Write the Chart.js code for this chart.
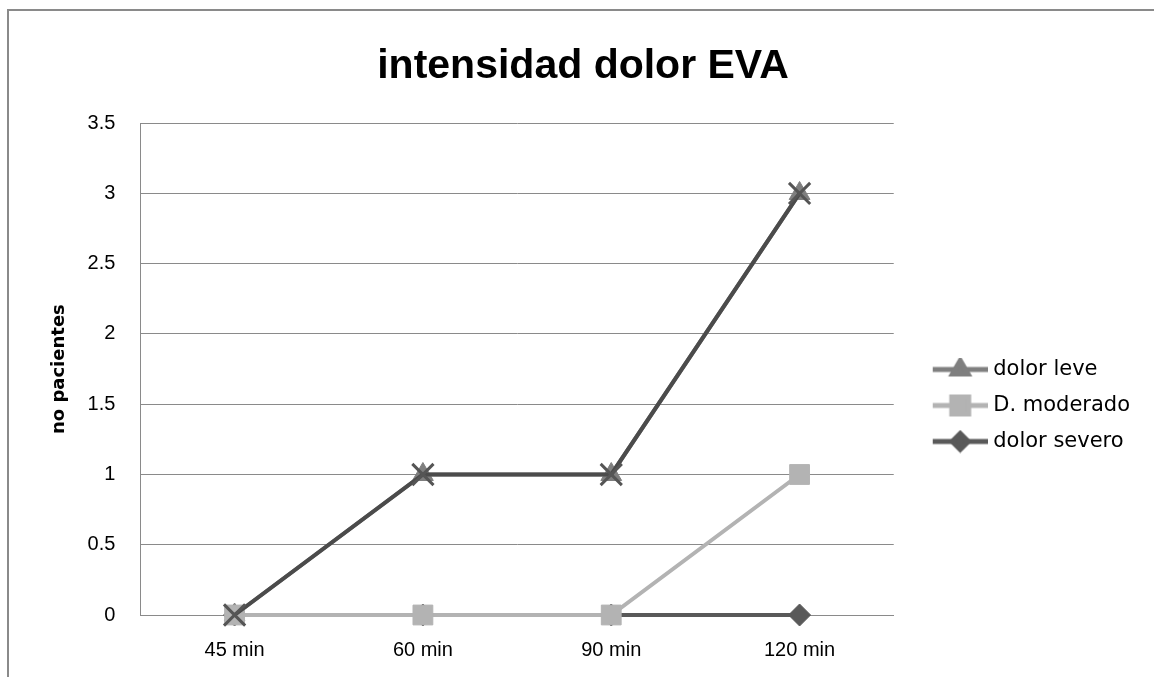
<!DOCTYPE html>
<html>
<head>
    <title>intensidad dolor EVA</title>
    <script src="https://cdn.jsdelivr.net/npm/chart.js"></script>
    <style>
        body { margin: 0; background: #fff; }
        #frame {
            position: absolute; left: 7px; top: 9px; width: 1147px; height: 668px;
            border-left: 2px solid #8a8a8a; border-top: 2px solid #8a8a8a;
        }
        #wrap { position: absolute; left: 9px; top: 11px; width: 1145px; height: 666px; }
    </style>
</head>
<body>
    <div id="frame"></div>
    <div id="wrap"><canvas id="evaChart" width="1145" height="666"></canvas></div>

    <script>
        // datos
        const categorias = ['45 min', '60 min', '90 min', '120 min'];
        const dolorLeve = [0, 1, 1, 3];
        const dolorModerado = [0, 0, 0, 1];
        const dolorSevero = [0, 0, 0, 0];
        const serie4 = [0, 1, 1, 3];   // serie sin entrada en la leyenda
        const yTicks = [0, 0.5, 1, 1.5, 2, 2.5, 3, 3.5];

        const fuente = "'Liberation Sans', Arial, sans-serif";
        const fuenteAncha = "'DejaVu Sans', sans-serif";

        // icono de leyenda: linea + marcador (la linea ocupa la parte derecha)
        const ICONO_W = 84;
        function iconoLeyenda(color, estilo, r) {
            const c = document.createElement('canvas');
            c.width = ICONO_W; c.height = 24;
            const g = c.getContext('2d');
            g.strokeStyle = color;
            g.lineWidth = 5;
            g.beginPath(); g.moveTo(ICONO_W - 55, 12); g.lineTo(ICONO_W, 12); g.stroke();
            g.fillStyle = color;
            Chart.helpers.drawPoint(g, { pointStyle: estilo, radius: r, borderWidth: 1 }, ICONO_W - 27.5, 12);
            return c;
        }

        const ctx = document.getElementById('evaChart').getContext('2d');
        const chart = new Chart(ctx, {
            type: 'line',
            data: {
                labels: categorias,
                datasets: [
                    {
                        label: 'dolor leve',
                        data: dolorLeve,
                        borderColor: '#7f7f7f',
                        backgroundColor: '#7f7f7f',
                        borderWidth: 4,
                        pointStyle: 'triangle',
                        pointRadius: 12,
                        pointBorderWidth: 1,
                        clip: false,
                        order: 2,
                        icono: iconoLeyenda('#7f7f7f', 'triangle', 9)
                    },
                    {
                        label: 'D. moderado',
                        data: dolorModerado,
                        borderColor: '#b3b3b3',
                        backgroundColor: '#b3b3b3',
                        borderWidth: 4,
                        pointStyle: 'rect',
                        pointRadius: 14,
                        pointBorderWidth: 1,
                        clip: false,
                        order: 1,
                        icono: iconoLeyenda('#b3b3b3', 'rect', 12)
                    },
                    {
                        label: 'dolor severo',
                        data: dolorSevero,
                        borderColor: '#595959',
                        backgroundColor: '#595959',
                        borderWidth: 4,
                        pointStyle: 'rectRot',
                        pointRadius: 11,
                        pointBorderWidth: 1,
                        clip: false,
                        order: 3,
                        icono: iconoLeyenda('#595959', 'rectRot', 8)
                    },
                    {
                        label: 'Serie4',
                        data: serie4,
                        borderColor: '#4b4b4b',
                        backgroundColor: '#5a5a5a',
                        pointBorderColor: '#555555',
                        borderWidth: 4,
                        pointStyle: 'crossRot',
                        pointRadius: 15,
                        pointBorderWidth: 3,
                        clip: false,
                        order: 0
                    }
                ]
            },
            options: {
                responsive: false,
                animation: false,
                layout: { padding: { left: 17, right: 14, top: 0, bottom: -8 } },
                elements: { line: { tension: 0 } },
                plugins: {
                    title: {
                        display: true,
                        text: 'intensidad dolor EVA',
                        color: '#000',
                        font: { family: fuente, size: 41, weight: 'bold' },
                        padding: { top: 31, bottom: 32 }
                    },
                    legend: {
                        position: 'right',
                        title: { display: true, text: '', font: { size: 10 }, padding: { top: 103, bottom: 0 } },
                        labels: {
                            color: '#000',
                            font: { family: fuenteAncha, size: 21 },
                            usePointStyle: true,
                            pointStyleWidth: ICONO_W - 10,
                            padding: 15,
                            generateLabels: function (ch) {
                                return ch.data.datasets
                                    .map((ds, i) => ({
                                        text: ds.label,
                                        datasetIndex: i,
                                        pointStyle: ds.icono,
                                        fillStyle: ds.borderColor,
                                        strokeStyle: ds.borderColor,
                                        lineWidth: 0,
                                        fontColor: '#000',
                                        hidden: false
                                    }))
                                    .filter(it => it.pointStyle);
                            }
                        }
                    },
                    tooltip: { enabled: false }
                },
                scales: {
                    x: {
                        offset: true,
                        grid: { display: false, drawTicks: false },
                        border: { color: '#8a8a8a', width: 1 },
                        ticks: { color: '#000', font: { family: fuente, size: 20, lineHeight: 1 }, padding: 25 }
                    },
                    y: {
                        min: 0,
                        max: 3.5,
                        afterBuildTicks: function (ax) {
                            ax.ticks = yTicks.map(v => ({ value: v }));
                        },
                        grid: { color: '#8a8a8a', lineWidth: 1, drawTicks: false },
                        border: { color: '#8a8a8a', width: 1 },
                        ticks: {
                            color: '#000',
                            font: { family: fuente, size: 20 },
                            padding: 25,
                            callback: v => String(v)
                        },
                        title: {
                            display: true,
                            text: 'no pacientes',
                            color: '#000',
                            font: { family: fuenteAncha, size: 18, weight: 'bold' },
                            padding: { top: 23, bottom: -8 }
                        }
                    }
                }
            }
        });
    </script>
</body>
</html>
